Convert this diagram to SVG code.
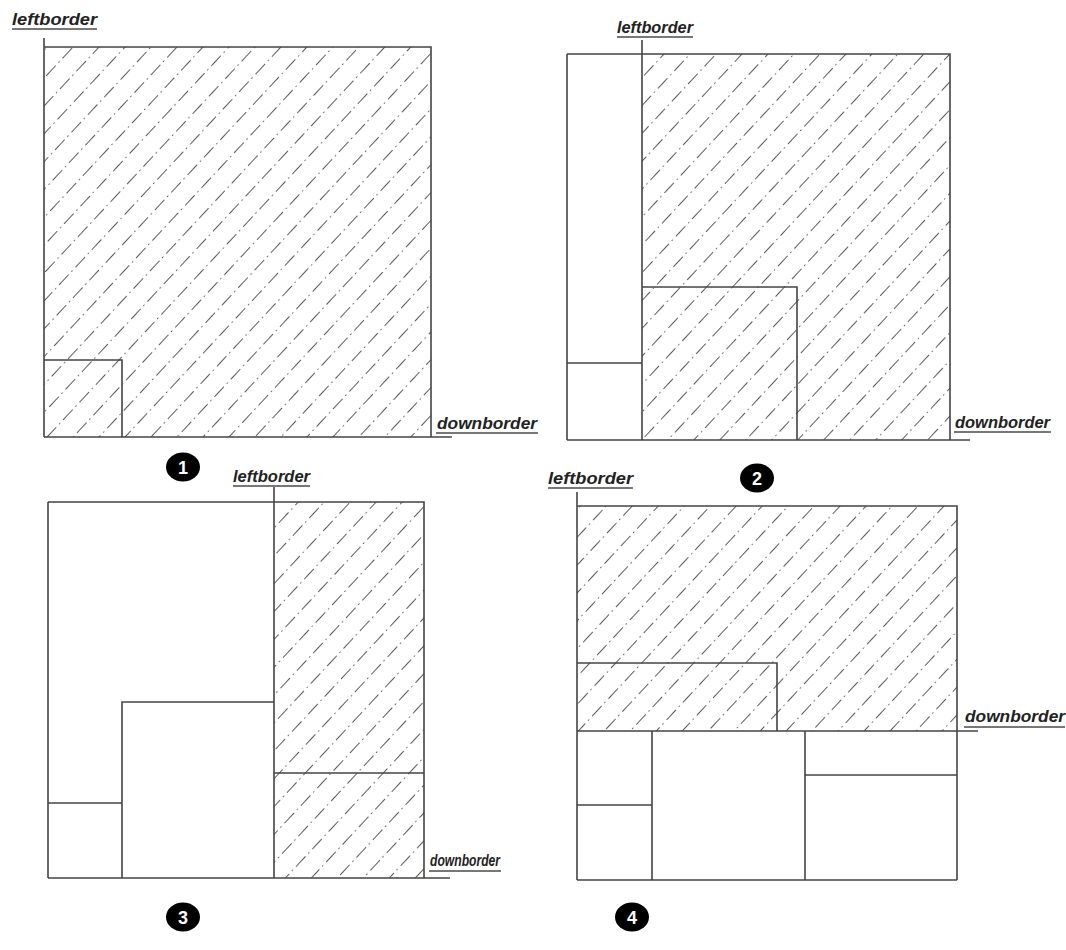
<svg xmlns="http://www.w3.org/2000/svg" width="1066" height="950" viewBox="0 0 1066 950">
<style>
.ln{stroke:#444;stroke-width:1.6;fill:none}
.lbl{font-family:"Liberation Sans",Arial,sans-serif;font-weight:bold;font-style:italic;font-size:16px;fill:#222}
.ul{stroke:#777;stroke-width:2}
.num{font-family:"Liberation Sans",Arial,sans-serif;font-weight:bold;font-size:18px;fill:#fff;text-anchor:middle}
</style>
<defs>
<pattern id="hatch" patternUnits="userSpaceOnUse" width="24" height="19" patternTransform="rotate(-47)">
<line x1="0" y1="9.5" x2="24" y2="9.5" stroke="#5a5a5a" stroke-width="1" stroke-dasharray="14 4 1.5 4.5"/>
</pattern>
</defs>
<rect width="1066" height="950" fill="#fff"/>

<g id="panel1">
<rect x="44" y="47" width="387" height="390" fill="url(#hatch)"/>
<path class="ln" d="M44 38V437M44 47H431V437M44 437H452M44 360H122V437"/>
<text class="lbl" x="12" y="25" textLength="85" lengthAdjust="spacingAndGlyphs">leftborder</text>
<line class="ul" x1="12" y1="29" x2="97" y2="29"/>
<text class="lbl" x="437" y="429" textLength="100" lengthAdjust="spacingAndGlyphs">downborder</text>
<line class="ul" x1="436" y1="433" x2="538" y2="433"/>
</g>

<g id="panel2">
<rect x="642" y="54" width="308" height="386" fill="url(#hatch)"/>
<path class="ln" d="M567 54H950V440M567 54V440M567 440H970M642 40V440M642 287H797V440M567 363H642"/>
<text class="lbl" x="617" y="33" textLength="76" lengthAdjust="spacingAndGlyphs">leftborder</text>
<line class="ul" x1="617" y1="37" x2="693" y2="37"/>
<text class="lbl" x="955" y="428" textLength="95" lengthAdjust="spacingAndGlyphs">downborder</text>
<line class="ul" x1="954" y1="432" x2="1051" y2="432"/>
</g>

<g id="panel3">
<rect x="274" y="502" width="150" height="376" fill="url(#hatch)"/>
<path class="ln" d="M48 502H424V878M48 502V878M48 878H450M274 487V878M274 773H424M122 878V702H274M48 803H122"/>
<text class="lbl" x="233" y="482" textLength="77" lengthAdjust="spacingAndGlyphs">leftborder</text>
<line class="ul" x1="233" y1="486" x2="310" y2="486"/>
<text class="lbl" x="430" y="866" font-size="13" textLength="70" lengthAdjust="spacingAndGlyphs">downborder</text>
<line class="ul" x1="429" y1="871" x2="501" y2="871"/>
</g>

<g id="panel4">
<rect x="577" y="506" width="380" height="225" fill="url(#hatch)"/>
<path class="ln" d="M577 506H957V880M577 492V880M577 731H978M577 880H957M577 663H777V731M652 731V880M805 731V880M577 805H652M805 775H957"/>
<text class="lbl" x="548" y="484" textLength="85" lengthAdjust="spacingAndGlyphs">leftborder</text>
<line class="ul" x1="548" y1="488" x2="633" y2="488"/>
<text class="lbl" x="965" y="722" textLength="100" lengthAdjust="spacingAndGlyphs">downborder</text>
<line class="ul" x1="964" y1="727" x2="1065" y2="727"/>
</g>

<g id="badges">
<g id="badge1"><ellipse cx="183" cy="467" rx="17" ry="14.5" fill="#000"/><text class="num" x="183" y="473.5">1</text></g>
<g id="badge2"><ellipse cx="757" cy="478" rx="17" ry="14.5" fill="#000"/><text class="num" x="757" y="484.5">2</text></g>
<g id="badge3"><ellipse cx="183" cy="917" rx="17" ry="14.5" fill="#000"/><text class="num" x="183" y="923.5">3</text></g>
<g id="badge4"><ellipse cx="632" cy="917" rx="17" ry="14.5" fill="#000"/><text class="num" x="632" y="923.5">4</text></g>
</g>
<g id="connectors"/>
</svg>
